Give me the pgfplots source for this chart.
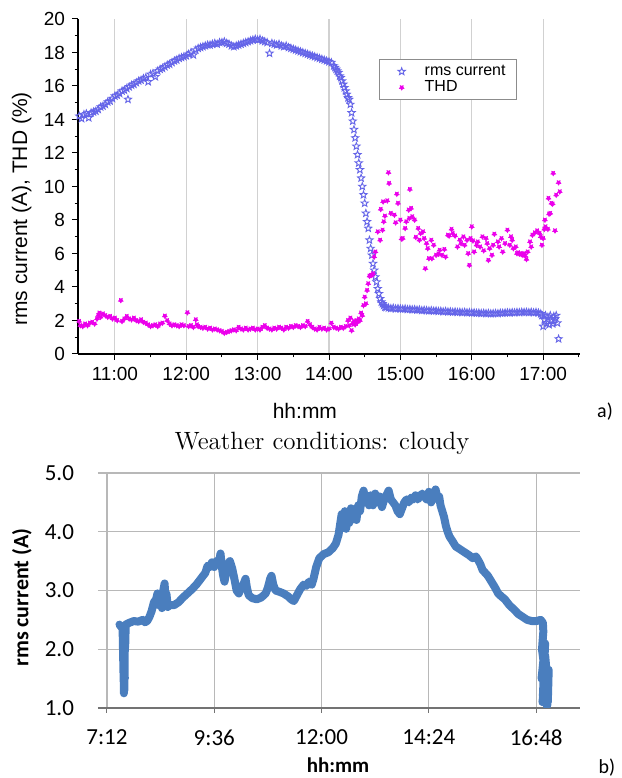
\documentclass[border=0pt]{standalone}
\usepackage{fontspec}
\usepackage{pgfplots}
\pgfplotsset{compat=1.18}
\newfontfamily\arialf{Liberation Sans}
\newfontfamily\calibf{Carlito}
\definecolor{rmsblue}{RGB}{100,100,232}
\definecolor{thdmag}{RGB}{235,0,235}
\definecolor{xlblue}{RGB}{74,126,190}
\pgfdeclareplotmark{ostar}{%
  \pgfpathmoveto{\pgfpointpolar{90}{\pgfplotmarksize}}%
  \pgfpathlineto{\pgfpointpolar{126}{0.42\pgfplotmarksize}}%
  \pgfpathlineto{\pgfpointpolar{162}{\pgfplotmarksize}}%
  \pgfpathlineto{\pgfpointpolar{198}{0.42\pgfplotmarksize}}%
  \pgfpathlineto{\pgfpointpolar{234}{\pgfplotmarksize}}%
  \pgfpathlineto{\pgfpointpolar{270}{0.42\pgfplotmarksize}}%
  \pgfpathlineto{\pgfpointpolar{306}{\pgfplotmarksize}}%
  \pgfpathlineto{\pgfpointpolar{342}{0.42\pgfplotmarksize}}%
  \pgfpathlineto{\pgfpointpolar{18}{\pgfplotmarksize}}%
  \pgfpathlineto{\pgfpointpolar{54}{0.42\pgfplotmarksize}}%
  \pgfpathclose\pgfusepathqstroke}
\pgfdeclareplotmark{fstar}{%
  \pgfpathmoveto{\pgfpointpolar{270}{\pgfplotmarksize}}%
  \pgfpathlineto{\pgfpointpolar{306}{0.55\pgfplotmarksize}}%
  \pgfpathlineto{\pgfpointpolar{342}{\pgfplotmarksize}}%
  \pgfpathlineto{\pgfpointpolar{18}{0.55\pgfplotmarksize}}%
  \pgfpathlineto{\pgfpointpolar{54}{\pgfplotmarksize}}%
  \pgfpathlineto{\pgfpointpolar{90}{0.55\pgfplotmarksize}}%
  \pgfpathlineto{\pgfpointpolar{126}{\pgfplotmarksize}}%
  \pgfpathlineto{\pgfpointpolar{162}{0.55\pgfplotmarksize}}%
  \pgfpathlineto{\pgfpointpolar{198}{\pgfplotmarksize}}%
  \pgfpathlineto{\pgfpointpolar{234}{0.55\pgfplotmarksize}}%
  \pgfpathclose\pgfusepathqfillstroke}
\begin{document}
\begin{tikzpicture}
\path[use as bounding box] (0,0) rectangle (311pt,389pt);
% ---------------- chart a ----------------
\begin{axis}[
  at={(39pt,212pt)}, anchor=south west, scale only axis,
  width=251pt, height=167.5pt,
  xmin=629, xmax=1051, ymin=0, ymax=20,
  axis x line*=bottom, axis y line*=left,
  axis line style={line width=0.6pt},
  xtick={660,720,780,840,900,960,1020},
  xticklabels={11:00,12:00,13:00,14:00,15:00,16:00,17:00},
  minor xtick={690,750,810,870,930,990,1050},
  ytick={0,2,...,20}, minor ytick={1,3,...,19},
  tick align=outside, major tick length=3pt, minor tick length=1.7pt,
  tick style={black, line width=0.5pt},
  xmajorgrids, major x grid style={black!18, line width=0.6pt},
  ticklabel style={font=\arialf\fontsize{9.5}{11}\selectfont},
  /pgf/number format/assume math mode=true,
  xlabel={hh:mm}, ylabel={rms current (A), THD (\%)},
  xlabel style={font=\arialf\fontsize{10.5}{12}\selectfont, at={(axis description cs:0.452,-0.17)}, anchor=center},
  ylabel style={font=\arialf\fontsize{10.5}{12}\selectfont, at={(axis description cs:-0.112,0.433)}, anchor=center, rotate=0},
  legend style={at={(0.6,0.88)}, anchor=north west, draw=black!45, line width=0.5pt,
    font=\arialf\fontsize{8}{9.5}\selectfont, inner xsep=3pt, inner ysep=2pt, row sep=0pt,
    nodes={inner ysep=0.6pt, inner xsep=2.5pt}},
  legend cell align=left,
  legend image code/.code={\path[draw=none, fill=none] (0pt,-2pt) rectangle (17pt,2pt); \draw[#1] plot coordinates {(8pt,0pt)};},
]
\addplot[only marks, mark=ostar, mark size=1.9pt, color=rmsblue, mark options={line width=0.45pt}] table {
630 14.2
632 14.05
634 14.3
636 14.35
638 14.1
640 14.4
642 14.45
644 14.5
646 14.6
648 14.75
650 14.8
652 14.9
654 15.05
656 15.1
658 15.25
660 15.4
662 15.45
664 15.55
666 15.7
668 15.75
670 15.85
671 15.2
672 15.95
674 16.05
676 16.1
678 16.2
680 16.3
682 16.35
684 16.45
686 16.5
688 16.25
690 16.7
692 16.75
694 16.55
696 16.9
698 17.0
700 17.05
702 17.15
704 17.25
706 17.3
708 17.4
710 17.5
712 17.55
714 17.65
716 17.7
718 17.75
720 17.8
722 17.9
724 18.0
726 17.85
728 18.15
730 18.25
732 18.3
734 18.35
736 18.4
738 18.45
740 18.45
742 18.5
744 18.55
746 18.5
748 18.6
750 18.6
752 18.65
754 18.55
756 18.5
758 18.4
760 18.35
762 18.4
764 18.45
766 18.5
768 18.55
770 18.6
772 18.65
774 18.7
776 18.75
778 18.8
780 18.75
782 18.8
784 18.7
786 18.65
788 18.6
790 17.95
792 18.55
794 18.5
796 18.45
798 18.5
800 18.4
802 18.35
804 18.4
806 18.3
808 18.25
810 18.2
812 18.15
814 18.1
816 18.05
818 18.0
820 17.95
822 17.9
824 17.85
826 17.8
828 17.75
830 17.7
832 17.65
834 17.6
836 17.55
838 17.5
840 17.45
842 17.4
844 17.2
845 17.1
846 17.0
847 16.9
848 16.8
849 16.6
850 16.5
851 16.3
852 16.1
853 15.9
854 15.7
855 15.5
856 15.3
857 15.2
858 14.9
859 14.4
860 13.9
861 13.4
862 12.9
863 12.4
864 11.9
865 11.4
866 11.0
867 10.5
868 10.0
869 9.5
870 9.0
871 8.4
872 7.9
873 7.5
874 6.8
875 6.3
876 5.9
877 5.4
878 5.0
879 4.6
880 4.3
881 3.9
882 3.6
883 3.3
884 3.1
885 3.0
886 2.9
887 2.8
888 2.78
890 2.75
892 2.72
894 2.74
896 2.7
898 2.72
900 2.7
902 2.68
904 2.7
906 2.66
908 2.67
910 2.65
912 2.66
914 2.63
916 2.64
918 2.6
920 2.62
922 2.6
924 2.58
926 2.6
928 2.57
930 2.58
932 2.55
934 2.56
936 2.53
938 2.55
940 2.52
942 2.53
944 2.5
946 2.52
948 2.49
950 2.5
952 2.48
954 2.5
956 2.47
958 2.48
960 2.46
962 2.47
964 2.44
966 2.45
968 2.43
970 2.44
972 2.42
974 2.43
976 2.41
978 2.42
980 2.43
982 2.42
984 2.45
986 2.44
988 2.46
990 2.47
992 2.46
994 2.48
996 2.47
998 2.49
1000 2.48
1002 2.5
1004 2.49
1006 2.5
1008 2.48
1010 2.5
1012 2.47
1014 2.49
1016 2.46
1018 2.4
1019 2.3
1020 1.65
1021 2.05
1022 2.3
1023 1.85
1024 2.2
1025 1.75
1026 2.3
1027 2.0
1028 1.8
1029 2.25
1030 2.1
1031 2.3
1032 1.85
1033 0.9
};
\addlegendentry{rms current}
\addplot[only marks, mark=fstar, mark size=1.25pt, color=thdmag, mark options={line width=0.3pt}] table {
630 1.95
631 1.7
633 1.65
635 1.8
637 1.7
639 1.85
641 1.9
643 1.8
645 2.1
646 2.3
647 2.45
648 2.2
650 2.4
652 2.3
654 2.2
656 2.25
658 2.1
660 2.15
662 2.0
665 3.2
666 1.95
668 2.1
670 2.25
672 2.1
674 2.05
676 2.15
678 2.0
680 1.95
682 2.05
684 1.9
686 1.85
688 1.75
690 1.65
692 1.7
694 1.75
696 1.65
698 1.8
700 1.85
702 2.27
704 2.0
706 1.8
708 1.7
710 1.75
712 1.7
714 1.65
716 1.75
718 1.7
721 2.47
722 1.65
724 1.7
726 1.6
728 2.05
729 1.75
730 1.65
732 1.6
734 1.55
736 1.6
738 1.5
740 1.55
742 1.45
744 1.5
746 1.45
748 1.4
750 1.35
752 1.25
754 1.3
756 1.35
758 1.4
760 1.45
762 1.4
764 1.6
766 1.5
768 1.45
770 1.55
772 1.45
774 1.5
776 1.55
778 1.45
780 1.5
782 1.45
784 1.6
786 1.7
788 1.55
790 1.5
792 1.45
794 1.55
796 1.5
798 1.6
800 1.55
802 1.45
804 1.6
806 1.55
808 1.65
810 1.6
812 1.7
814 1.65
816 1.6
818 1.7
820 1.65
822 1.95
824 1.75
826 1.6
828 1.5
830 1.45
832 1.6
834 1.5
836 1.55
838 1.45
840 1.5
842 1.85
844 1.6
846 1.55
848 1.5
850 1.6
852 1.55
854 1.65
856 2.0
857 1.7
858 2.15
859 1.4
860 1.8
861 1.95
862 1.75
863 2.0
864 1.9
865 2.1
866 2.0
867 2.45
868 2.3
869 2.9
870 3.4
871 3.0
872 3.8
873 4.2
874 4.65
875 4.7
876 4.7
877 4.8
878 5.8
879 6.1
881 7.3
883 6.8
883.5 8.64
885 7.4
885.5 9.09
886 7.9
887 8.24
889 9.15
890 10.83
890.5 10.19
892 8.4
895 8.3
896 7.84
897 9.55
898 9.0
900 8.0
901 6.87
902 6.9
904 7.5
905 7.9
907 8.6
907.5 8.1
908 9.83
909 8.7
910 8.2
912 8.0
913 6.97
915 7.5
916 6.8
917 7.2
919 7.3
920 6.9
921 5.1
922 6.6
923 6.3
924 5.7
926 6.8
926.5 5.7
928 6.5
930 5.9
932 5.97
933 6.2
935 5.9
937 6.25
938 5.8
940 7.1
941 7.05
943 7.45
944 7.2
946 7.05
948 6.4
950 6.8
951 6.6
953 7.0
954 6.5
956 6.8
957 6.0
958 5.3
959 6.9
960 7.6
961 6.76
962 6.1
964 6.5
965 6.7
967 6.4
969 7.0
970 6.17
972 6.9
973 6.6
974 5.6
975 6.3
977 5.9
978 6.5
979 7.16
982 6.7
983 6.4
985 6.9
986 6.1
988 6.6
990 7.4
992 6.5
993 7.0
994 6.8
995 6.3
997 6.4
998 6.0
999 6.05
1000 5.97
1001 6.0
1002 5.95
1003 5.9
1004 6.0
1005 5.85
1006 5.65
1007 6.1
1009 6.7
1010 6.4
1011 7.1
1013 7.24
1015 7.36
1017 7.2
1018 7.0
1019 6.5
1020 6.9
1021 7.45
1021.5 8.0
1022 7.6
1024 7.45
1024.5 9.3
1025 8.36
1026 8.4
1027 9.0
1028 8.96
1028.5 10.79
1030 7.36
1031 9.49
1033 10.23
1034 9.69
};
\addlegendentry{THD}
\end{axis}
\node[font=\calibf\fontsize{10}{12}\selectfont] at (302.5pt,183pt) {a)};
% ---------------- chart b ----------------
\node[font=\fontsize{12.5}{14}\selectfont] at (161pt,167.5pt) {Weather conditions: cloudy};
\begin{axis}[
  at={(49pt,35pt)}, anchor=south west, scale only axis,
  width=241pt, height=117.5pt,
  xmin=7.0, xmax=17.78, ymin=1, ymax=5,
  axis x line*=bottom, axis y line*=left,
  x axis line style={black!55, line width=0.6pt},
  y axis line style={draw=none},
  xtick={7.2,9.6,12,14.4,16.8},
  xticklabels={7:12,9:36,12:00,14:24,16:48},
  ytick={1,2,3,4,5},
  /pgf/number format/fixed,
  /pgf/number format/fixed zerofill,
  /pgf/number format/precision=1,
  /pgf/number format/assume math mode=true,
  ytick style={draw=none},
  xtick style={black!55, line width=0.5pt},
  tick align=outside, major tick length=2.5pt,
  grid=major, major grid style={black!28, line width=0.6pt},
  xticklabel style={font=\calibf\fontsize{11.5}{13}\selectfont, yshift=-5pt},
  yticklabel style={font=\calibf\fontsize{11.5}{13}\selectfont, xshift=-6pt},
  xlabel={hh:mm}, ylabel={rms current (A)},
  xlabel style={font=\calibf\bfseries\fontsize{10.5}{12}\selectfont, at={(axis description cs:0.498,-0.245)}, anchor=center},
  ylabel style={font=\calibf\bfseries\fontsize{11}{13}\selectfont, at={(axis description cs:-0.158,0.47)}, anchor=center},
]
\addplot[color=xlblue, line width=4pt, line join=round, line cap=round] table {
7.48 2.42
7.55 2.35
7.57 1.6
7.56 2.2
7.58 1.25
7.57 1.9
7.6 1.5
7.56 2.05
7.59 1.3
7.6 2.3
7.58 1.75
7.61 2.1
7.62 2.42
7.7 2.45
7.8 2.48
7.9 2.47
8.0 2.5
8.05 2.46
8.1 2.48
8.15 2.55
8.2 2.65
8.25 2.8
8.3 2.85
8.33 2.95
8.36 2.75
8.4 2.9
8.43 2.7
8.46 3.0
8.49 3.12
8.51 2.8
8.53 2.95
8.56 2.72
8.6 2.75
8.7 2.75
8.8 2.8
8.9 2.88
9.0 2.95
9.1 3.02
9.2 3.1
9.3 3.2
9.4 3.3
9.45 3.42
9.5 3.4
9.55 3.48
9.6 3.4
9.65 3.5
9.7 3.45
9.74 3.63
9.77 3.4
9.8 3.25
9.83 3.15
9.86 3.3
9.9 3.45
9.95 3.5
10.0 3.38
10.05 3.2
10.1 3.0
10.15 2.95
10.2 3.05
10.25 3.1
10.3 3.2
10.33 3.05
10.37 2.92
10.45 2.87
10.55 2.85
10.65 2.88
10.75 2.95
10.8 3.05
10.85 3.2
10.88 3.25
10.92 3.1
10.97 3.0
11.05 2.98
11.15 2.95
11.25 2.9
11.32 2.85
11.38 2.82
11.45 2.92
11.52 3.02
11.6 3.1
11.66 3.08
11.72 3.15
11.78 3.1
11.82 3.2
11.88 3.4
11.95 3.55
12.05 3.62
12.15 3.65
12.25 3.72
12.32 3.8
12.38 3.95
12.42 4.15
12.45 4.3
12.48 4.1
12.52 4.35
12.55 4.05
12.58 4.25
12.62 4.15
12.66 4.4
12.7 4.25
12.74 4.35
12.78 4.2
12.82 4.45
12.86 4.35
12.9 4.6
12.94 4.7
12.98 4.5
13.02 4.6
13.06 4.45
13.1 4.62
13.15 4.45
13.2 4.65
13.25 4.5
13.3 4.6
13.35 4.42
13.4 4.55
13.45 4.62
13.5 4.7
13.55 4.55
13.6 4.5
13.65 4.45
13.7 4.35
13.75 4.3
13.8 4.4
13.85 4.5
13.9 4.55
13.95 4.5
14.0 4.58
14.05 4.55
14.1 4.62
14.15 4.55
14.2 4.6
14.25 4.65
14.3 4.6
14.35 4.55
14.4 4.68
14.45 4.5
14.5 4.6
14.55 4.72
14.6 4.55
14.63 4.6
14.66 4.45
14.7 4.35
14.74 4.25
14.78 4.1
14.82 4.0
14.86 3.92
14.92 3.85
15.0 3.75
15.1 3.7
15.2 3.65
15.3 3.6
15.38 3.55
15.45 3.58
15.5 3.52
15.55 3.45
15.6 3.35
15.66 3.3
15.72 3.25
15.8 3.15
15.88 3.05
15.95 2.95
16.02 2.9
16.1 2.85
16.2 2.75
16.3 2.68
16.4 2.6
16.5 2.55
16.6 2.5
16.7 2.48
16.8 2.48
16.9 2.5
16.95 2.45
16.96 2.3
16.93 2.0
16.98 1.7
16.92 1.5
17.0 2.1
16.95 1.2
17.02 1.6
16.94 1.1
17.0 1.4
17.05 1.05
17.03 1.7
17.07 1.3
17.0 1.9
17.06 1.1
17.08 1.65
17.04 1.03
};
\end{axis}
\node[font=\calibf\fontsize{10}{12}\selectfont] at (303.5pt,5pt) {b)};
\end{tikzpicture}
\end{document}
